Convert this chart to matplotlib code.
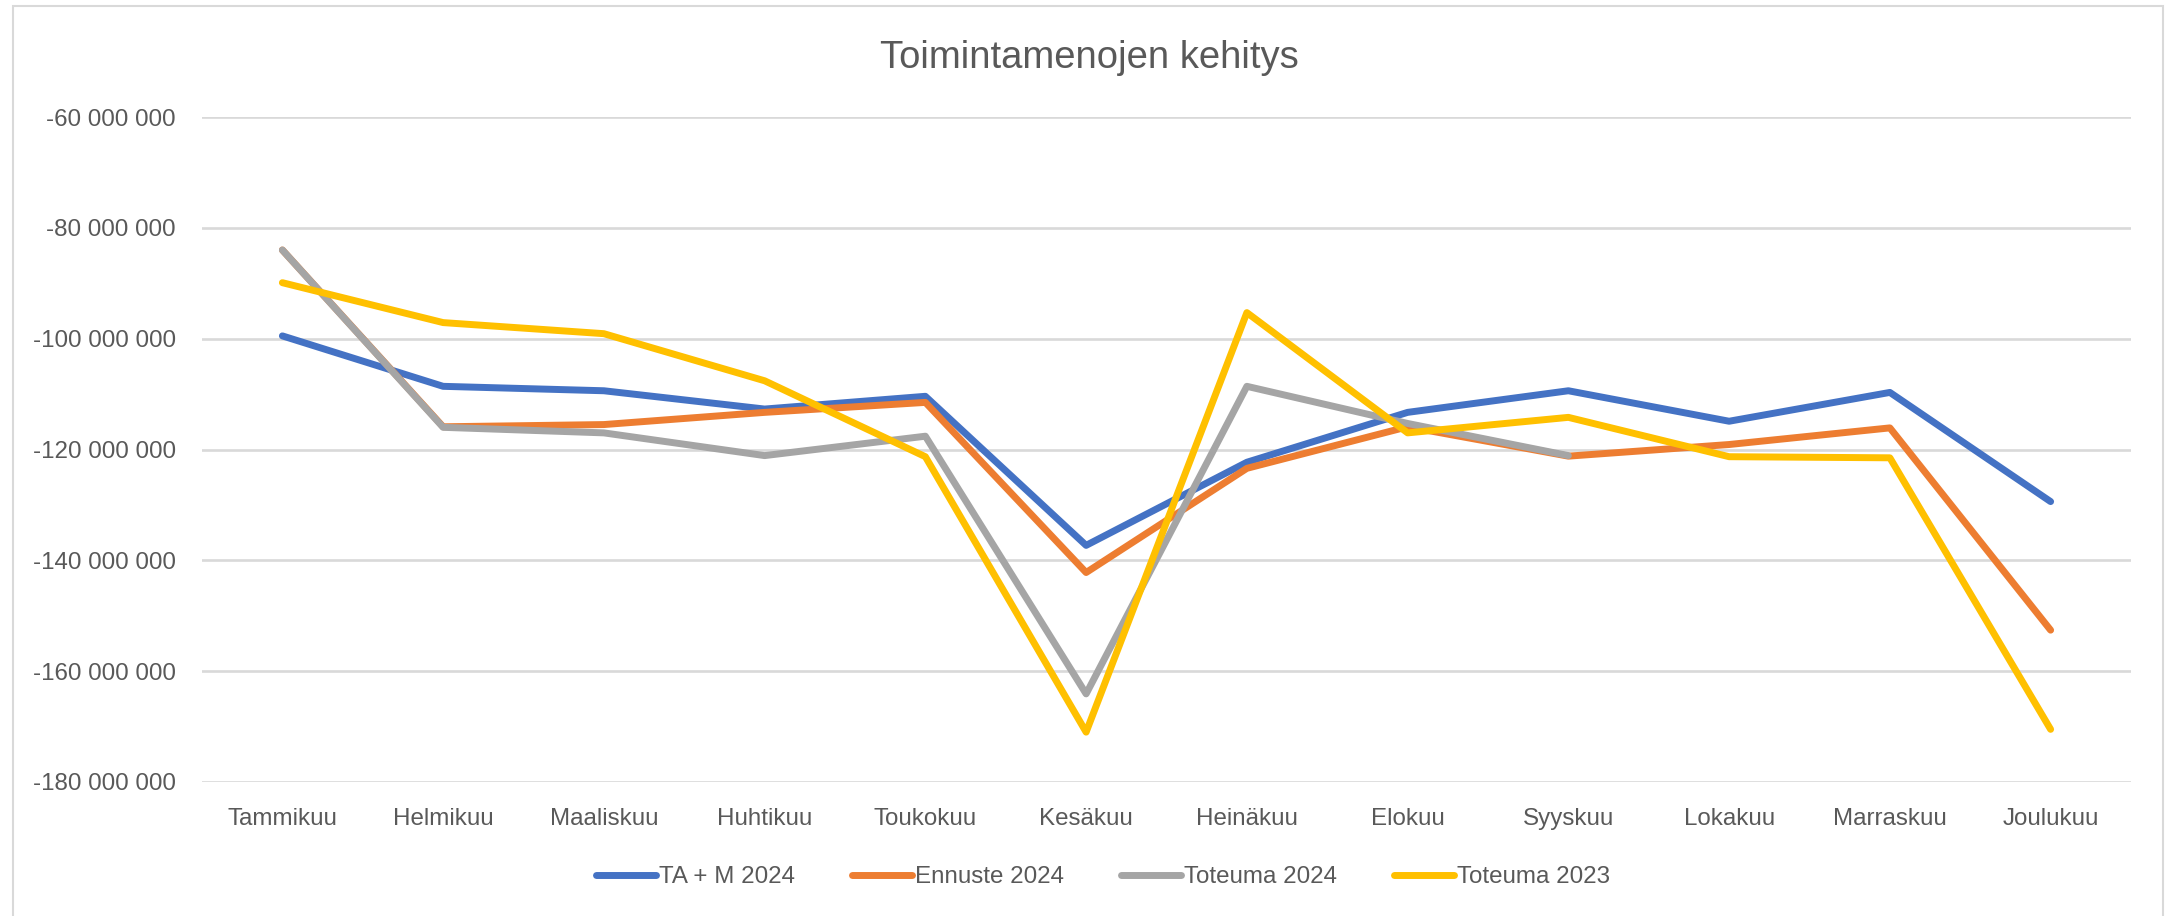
import numpy as np
import matplotlib
matplotlib.use('Agg')
from matplotlib import pyplot as plt
from matplotlib.patches import Rectangle
from matplotlib.ticker import FuncFormatter, MultipleLocator

months = ['Tammikuu', 'Helmikuu', 'Maaliskuu', 'Huhtikuu', 'Toukokuu', 'Kesäkuu',
          'Heinäkuu', 'Elokuu', 'Syyskuu', 'Lokakuu', 'Marraskuu', 'Joulukuu']

# values in millions of euros
ta_m_2024 = [-99.5, -108.6, -109.4, -112.7, -110.4, -137.3,
             -122.3, -113.3, -109.4, -114.9, -109.7, -129.4]
ennuste_2024 = [-84.0, -115.9, -115.5, -113.3, -111.5, -142.2,
                -123.4, -115.9, -121.2, -119.1, -116.1, -152.6]
toteuma_2024 = [-84.0, -116.0, -117.0, -121.1, -117.6, -164.1,
                -108.6, -115.3, -121.1, np.nan, np.nan, np.nan]
toteuma_2023 = [-89.9, -97.1, -99.1, -107.6, -121.3, -171.0,
                -95.3, -117.0, -114.2, -121.3, -121.5, -170.5]

series_names = ['TA + M 2024', 'Ennuste 2024', 'Toteuma 2024', 'Toteuma 2023']
series_colors = ['#4472C4', '#ED7D31', '#A5A5A5', '#FFC000']

W, H = 2165, 916
text_col = '#595959'
plt.rcParams['font.family'] = ['Liberation Sans', 'DejaVu Sans']

fig = plt.figure(figsize=(W / 100, H / 100), dpi=100)
ax = fig.add_axes([202 / W, 1 - 782 / H, (2131 - 202) / W, (782 - 117) / H])

x = np.arange(len(months))
all_series = [ta_m_2024, ennuste_2024, toteuma_2024, toteuma_2023]
for vals, name, col in zip(all_series, series_names, series_colors):
  ax.plot(x, np.array(vals, dtype=float) * 1e6, color=col, lw=5, label=name,
          solid_capstyle='round', solid_joinstyle='round', zorder=3)

ax.set_xlim(-0.5, len(months) - 0.5)
ax.set_ylim(-180e6, -60e6)
ax.yaxis.set_major_locator(MultipleLocator(20e6))
ax.yaxis.set_major_formatter(FuncFormatter(lambda v, p: f'{v:,.0f}'.replace(',', ' ')))
ax.set_xticks(x)
ax.set_xticklabels(months)
ax.tick_params(axis='both', length=0, labelsize=17.4, colors=text_col)
ax.tick_params(axis='y', pad=19)
ax.tick_params(axis='x', pad=19)
ax.grid(axis='y', color='#D9D9D9', lw=1.9, zorder=0)
ax.set_axisbelow(True)
for s in ax.spines.values():
  s.set_visible(False)

fig.text(1089 / W, 1 - 68 / H, 'Toimintamenojen kehitys', ha='center', va='baseline',
         fontsize=27.5, color=text_col)

fig.legend(loc='center', bbox_to_anchor=(1103 / W, 1 - 877 / H), ncol=4, frameon=False,
           fontsize=17.4, labelcolor=text_col, handlelength=2.5, handletextpad=0.12,
           columnspacing=2.35)

fig.patches.append(Rectangle((13 / W, -0.05), (2163 - 13) / W, 1.05 - 6 / H,
                             transform=fig.transFigure, fill=False,
                             edgecolor='#D9D9D9', lw=1.5))

fig.savefig('out.png', dpi=100)
